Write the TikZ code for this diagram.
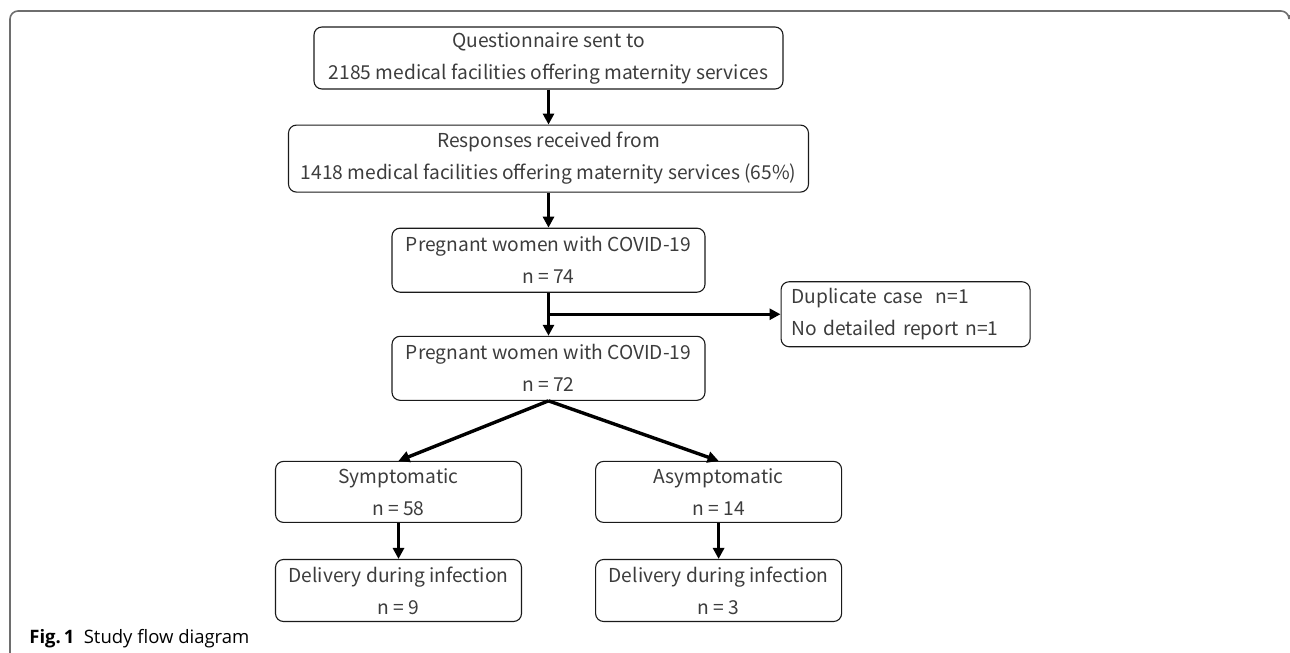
\documentclass[tikz,border=0pt]{standalone}
\usepackage{fontspec}
\setmainfont{Noto Sans CJK JP}
\newfontfamily\capfont{Open Sans}
\usetikzlibrary{arrows.meta,positioning,calc}
\definecolor{ink}{HTML}{1A1A1A}
\definecolor{framegrey}{HTML}{6E6E6E}
\tikzset{
  box/.style={draw=ink,line width=0.55pt,rounded corners=4pt,align=center,font=\fontsize{9.6}{16}\selectfont,
    text=ink!85,inner sep=2pt,minimum width=#1},
  box/.default=156.5pt,
  flow/.style={-{Triangle[length=5.5pt,width=5.5pt]},line width=1.7pt,draw=black},
}

\begin{document}
\begin{tikzpicture}[x=0.5pt,y=-0.5pt,
  exbox/.style={box=124.5pt,align=left,minimum height=32.5pt,text width=114pt}]
  \useasboundingbox (0,0) rectangle (1290,653);
  % outer frame
  \draw[framegrey,line width=0.8pt,rounded corners=4pt] (10,653) |- (1289,11) -- (1289,15);
  % main column
  \node[box=234.5pt,minimum height=31pt] (quest) at (548.5,58) {Questionnaire sent to\\2185 medical facilities offering maternity services};
  \node[box=260pt,minimum height=33.5pt,below=17.5pt of quest] (resp) {Responses received from\\1418 medical facilities offering maternity services (65\%)};
  \node[box,minimum height=32pt,below=17.5pt of resp] (preg1) {Pregnant women with COVID-19\\n = 74};
  \node[box,minimum height=32pt,below=21.5pt of preg1] (preg2) {Pregnant women with COVID-19\\n = 72};
  \coordinate (split) at ($(preg1.south)!.5!(preg2.north)$);
  \node[exbox,right=116pt of split] (excl) {Duplicate case~~n=1\\No detailed report n=1};
  % branches
  \node[box=123pt,minimum height=30.5pt,below=30pt of preg2,xshift=-75pt] (sym) {Symptomatic\\n = 58};
  \node[box=123pt,minimum height=30.5pt,right=36.5pt of sym] (asym) {Asymptomatic\\n = 14};
  \node[box=123pt,minimum height=31pt,below=18pt of sym] (del1) {Delivery during infection\\n = 9};
  \node[box=123pt,minimum height=31pt,below=18pt of asym] (del2) {Delivery during infection\\n = 3};
  \draw[flow] (quest) -- (resp);
  \draw[flow] (resp) -- (preg1);
  \draw[flow] (preg1) -- (preg2);
  \draw[flow] (split) -- (excl);
  \draw[flow] (preg2.south) -- (sym.north);
  \draw[flow] (preg2.south) -- (asym.north);
  \draw[flow] (sym) -- (del1);
  \draw[flow] (asym) -- (del2);
  % caption
  \node[anchor=west,inner sep=0pt,font=\capfont\fontsize{9.25}{11}\selectfont] (cap) at (29,639) {\textbf{Fig.\,1}\enspace Study flow diagram};
\end{tikzpicture}
\end{document}
